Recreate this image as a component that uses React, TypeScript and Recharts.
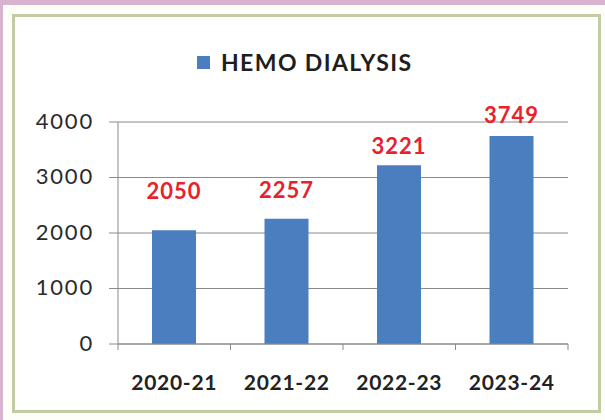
import { Bar, BarChart, CartesianGrid, LabelList, XAxis, YAxis } from "recharts";

const years = ["2020-21", "2021-22", "2022-23", "2023-24"];
const hemoDialysis = [2050, 2257, 3221, 3749];
const yTicks = [0, 1000, 2000, 3000, 4000];
const seriesName = "HEMO DIALYSIS";

// how far above each bar top the red value sits (labels were hand-placed in the source)
const labelLift = [40, 29, 20, 21];

const rows = years.map((year, i) => ({ year, value: hemoDialysis[i] }));

const FONT = "Lato, 'Open Sans', sans-serif";
const BLUE = "#4a7ebf";

function CategoryTick(props: any) {
  const { x, y, payload, index } = props;
  const half = payload?.offset ?? 56;
  return (
    <g>
      <line x1={x - half} x2={x - half} y1={y - 8} y2={y - 2} stroke="#8a8a8a" />
      {index === years.length - 1 && (
        <line x1={x + half} x2={x + half} y1={y - 8} y2={y - 2} stroke="#8a8a8a" />
      )}
      <text
        x={x}
        y={y + 29}
        textAnchor="middle"
        dominantBaseline="central"
        fontFamily={FONT}
        fontWeight={700}
        fontSize={21}
        letterSpacing={0.7}
        fill="#222"
      >
        {payload.value}
      </text>
    </g>
  );
}

function ValueTick(props: any) {
  const { x, y, payload } = props;
  return (
    <text
      x={x}
      y={y - 2}
      textAnchor="end"
      dominantBaseline="central"
      fontFamily={FONT}
      fontSize={22}
      letterSpacing={1.8}
      fill="#2a2a2a"
    >
      {payload.value}
    </text>
  );
}

function ValueLabel(props: any) {
  const { x, y, width, value, index } = props;
  return (
    <text
      x={x + width / 2}
      y={y - labelLift[index]}
      textAnchor="middle"
      dominantBaseline="central"
      fontFamily={FONT}
      fontWeight={700}
      fontSize={22}
      letterSpacing={1}
      fill="#e8212b"
    >
      {value}
    </text>
  );
}

export default function App() {
  return (
    <div style={{ position: "absolute", left: 0, top: 0, width: 605, height: 420, background: "#d7b3cf" }}>
      <div style={{ position: "absolute", left: 3, top: 5, width: 602, height: 415, background: "#fdfef8" }} />
      <div
        style={{
          position: "absolute",
          left: 12,
          top: 14,
          width: 589,
          height: 399,
          boxSizing: "border-box",
          border: "3px solid #c2cca4",
          background: "#ffffff",
        }}
      />
      <div
        style={{
          position: "absolute",
          left: 197,
          top: 48,
          display: "flex",
          alignItems: "center",
          fontFamily: FONT,
          fontWeight: 700,
          fontSize: 23,
          letterSpacing: 1.4,
          color: "#1e1e1e",
        }}
      >
        <span style={{ display: "inline-block", width: 13, height: 13, background: BLUE, marginRight: 11 }} />
        {seriesName}
      </div>
      <div style={{ position: "absolute", left: 0, top: 0 }}>
        <BarChart width={605} height={420} data={rows} margin={{ top: 122, right: 37, bottom: 26, left: 0 }}>
          <CartesianGrid vertical={false} stroke="#8a8a8a" />
          <XAxis
            dataKey="year"
            axisLine={{ stroke: "#8a8a8a" }}
            tickLine={false}
            tick={<CategoryTick />}
            interval={0}
            height={50}
          />
          <YAxis
            domain={[0, 4000]}
            ticks={yTicks}
            width={118}
            axisLine={{ stroke: "#8a8a8a" }}
            tickLine={{ stroke: "#8a8a8a" }}
            tickSize={9}
            tickMargin={15}
            tick={<ValueTick />}
          />
          <YAxis yAxisId="frame" orientation="right" width={0} tick={false} tickLine={false} axisLine={{ stroke: "#8a8a8a" }} />
          <Bar dataKey="value" name={seriesName} fill={BLUE} barSize={44} isAnimationActive={false}>
            <LabelList dataKey="value" content={<ValueLabel />} />
          </Bar>
        </BarChart>
      </div>
    </div>
  );
}
